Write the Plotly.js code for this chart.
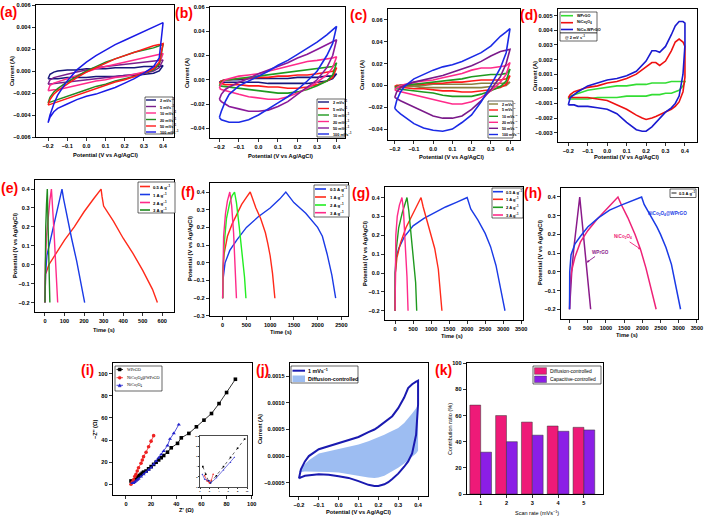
<!DOCTYPE html>
<html><head><meta charset="utf-8">
<script src="https://cdn.plot.ly/plotly-3.0.1.min.js"></script>
<style>html,body{margin:0;padding:0;background:#fff}#chart{width:707px;height:521px}</style>
</head><body><div id="chart"></div>
<script>
// ================= DATA =================
// (a) CV, scan-rate series (A) : upper (anodic) & lower (cathodic) branches on the potential grid
const cvPot = [-0.2,-0.19,-0.17,-0.15,-0.1,-0.05,0,0.05,0.1,0.15,0.2,0.25,0.3,0.35,0.38,0.4];
const scanLabels = ['2 mVs<sup>−1</sup>','5 mVs<sup>−1</sup>','10 mVs<sup>−1</sup>','20 mVs<sup>−1</sup>','50 mVs<sup>−1</sup>','100 mVs<sup>−1</sup>'];
const a2Up = [-0.0007,-0.0003,-0.0001,0.0000,0.0001,0.0001,0.0002,0.0002,0.0002,0.0003,0.0003,0.0003,0.0004,0.0004,0.0004,0.0005];
const a2Lo = [-0.0007,-0.0007,-0.0007,-0.0007,-0.0006,-0.0006,-0.0006,-0.0005,-0.0005,-0.0005,-0.0004,-0.0004,-0.0003,-0.0002,0.0000,0.0005];
const a5Up = [-0.0012,-0.0008,-0.0006,-0.0005,-0.0003,-0.0001,0.0001,0.0003,0.0004,0.0005,0.0006,0.0007,0.0008,0.0009,0.0009,0.0010];
const a5Lo = [-0.0012,-0.0012,-0.0011,-0.0011,-0.0010,-0.0009,-0.0008,-0.0007,-0.0006,-0.0005,-0.0004,-0.0003,-0.0002,0.0000,0.0003,0.0010];
const a10Up = [-0.0018,-0.0013,-0.0011,-0.0010,-0.0007,-0.0004,-0.0001,0.0002,0.0004,0.0006,0.0008,0.0010,0.0012,0.0014,0.0015,0.0016];
const a10Lo = [-0.0018,-0.0018,-0.0017,-0.0017,-0.0015,-0.0013,-0.0011,-0.0009,-0.0008,-0.0006,-0.0005,-0.0003,-0.0001,0.0002,0.0006,0.0016];
const a20Up = [-0.0029,-0.0024,-0.0019,-0.0016,-0.0010,-0.0005,0.0000,0.0004,0.0008,0.0011,0.0014,0.0017,0.0019,0.0021,0.0023,0.0024];
const a20Lo = [-0.0029,-0.0028,-0.0027,-0.0026,-0.0023,-0.0020,-0.0017,-0.0014,-0.0012,-0.0009,-0.0007,-0.0005,-0.0002,0.0001,0.0006,0.0024];
const a50Up = [-0.0031,-0.0026,-0.0021,-0.0018,-0.0012,-0.0006,-0.0001,0.0003,0.0007,0.0011,0.0014,0.0017,0.0020,0.0023,0.0024,0.0025];
const a50Lo = [-0.0031,-0.0030,-0.0029,-0.0028,-0.0025,-0.0022,-0.0019,-0.0016,-0.0013,-0.0010,-0.0008,-0.0005,-0.0002,0.0002,0.0008,0.0025];
const a100Up = [-0.0047,-0.0040,-0.0030,-0.0022,-0.0009,0.0001,0.0008,0.0014,0.0019,0.0024,0.0028,0.0032,0.0036,0.0040,0.0042,0.0044];
const a100Lo = [-0.0047,-0.0042,-0.0037,-0.0034,-0.0030,-0.0026,-0.0023,-0.0021,-0.0018,-0.0015,-0.0011,-0.0007,-0.0002,0.0004,0.0012,0.0044];
// (b)
const b2Up = [-0.002,-0.001,0.000,0.000,0.000,0.001,0.001,0.001,0.001,0.001,0.002,0.002,0.002,0.003,0.003,0.005];
const b2Lo = [-0.002,-0.002,-0.002,-0.002,-0.002,-0.002,-0.002,-0.003,-0.003,-0.003,-0.003,-0.003,-0.002,-0.001,0.001,0.005];
const b5Up = [-0.003,-0.001,0.000,0.000,0.001,0.001,0.002,0.002,0.003,0.003,0.004,0.004,0.005,0.006,0.007,0.010];
const b5Lo = [-0.003,-0.003,-0.004,-0.004,-0.004,-0.005,-0.005,-0.006,-0.006,-0.007,-0.007,-0.006,-0.004,-0.001,0.002,0.010];
const b10Up = [-0.005,-0.002,0.000,0.000,0.001,0.002,0.003,0.004,0.005,0.006,0.007,0.008,0.009,0.010,0.011,0.014];
const b10Lo = [-0.005,-0.005,-0.006,-0.006,-0.007,-0.008,-0.009,-0.010,-0.011,-0.011,-0.010,-0.008,-0.005,-0.001,0.004,0.014];
const b20Up = [-0.007,-0.003,0.000,0.001,0.003,0.004,0.005,0.007,0.009,0.011,0.013,0.015,0.016,0.017,0.018,0.019];
const b20Lo = [-0.007,-0.008,-0.009,-0.010,-0.012,-0.014,-0.015,-0.016,-0.016,-0.014,-0.011,-0.007,-0.002,0.004,0.010,0.019];
const b50Up = [-0.016,-0.012,-0.008,-0.006,-0.002,0.001,0.005,0.008,0.011,0.014,0.018,0.021,0.025,0.029,0.031,0.033];
const b50Lo = [-0.016,-0.018,-0.020,-0.022,-0.024,-0.026,-0.026,-0.025,-0.022,-0.018,-0.012,-0.006,0.000,0.010,0.020,0.033];
const b100Up = [-0.031,-0.026,-0.018,-0.012,-0.005,-0.001,0.003,0.007,0.012,0.016,0.021,0.026,0.031,0.037,0.041,0.044];
const b100Lo = [-0.031,-0.033,-0.034,-0.035,-0.035,-0.033,-0.029,-0.024,-0.019,-0.014,-0.008,-0.001,0.007,0.020,0.030,0.044];
// (c)
const c2Up = [-0.001,-0.001,0.000,0.000,0.000,0.000,0.001,0.001,0.001,0.001,0.001,0.002,0.002,0.002,0.002,0.003];
const c2Lo = [-0.001,-0.001,-0.001,-0.001,-0.001,-0.002,-0.002,-0.002,-0.002,-0.002,-0.002,-0.002,-0.001,-0.001,0.000,0.003];
const c5Up = [-0.001,0.000,0.000,0.000,0.001,0.001,0.002,0.002,0.003,0.003,0.004,0.005,0.005,0.005,0.006,0.009];
const c5Lo = [-0.001,-0.001,-0.002,-0.002,-0.003,-0.003,-0.004,-0.005,-0.005,-0.006,-0.006,-0.005,-0.004,-0.002,0.001,0.009];
const c10Up = [-0.002,-0.001,0.000,0.000,0.001,0.002,0.003,0.004,0.005,0.006,0.008,0.009,0.010,0.010,0.011,0.015];
const c10Lo = [-0.002,-0.003,-0.003,-0.004,-0.005,-0.006,-0.007,-0.009,-0.010,-0.010,-0.010,-0.008,-0.005,-0.001,0.004,0.015];
const c20Up = [-0.004,-0.002,0.000,0.001,0.003,0.004,0.005,0.007,0.009,0.011,0.014,0.016,0.016,0.017,0.018,0.021];
const c20Lo = [-0.004,-0.005,-0.006,-0.007,-0.009,-0.011,-0.013,-0.015,-0.017,-0.017,-0.015,-0.011,-0.005,0.003,0.010,0.021];
const c50Up = [-0.011,-0.006,-0.002,0.000,0.003,0.005,0.007,0.009,0.012,0.015,0.018,0.022,0.027,0.031,0.032,0.033];
const c50Lo = [-0.011,-0.012,-0.014,-0.016,-0.020,-0.024,-0.028,-0.030,-0.030,-0.028,-0.022,-0.014,-0.004,0.008,0.020,0.033];
const c100Up = [-0.021,-0.014,-0.006,-0.001,0.006,0.010,0.014,0.017,0.019,0.022,0.026,0.030,0.036,0.045,0.049,0.052];
const c100Lo = [-0.021,-0.023,-0.026,-0.029,-0.035,-0.039,-0.041,-0.042,-0.040,-0.034,-0.027,-0.015,0.000,0.016,0.030,0.052];
// (d) and (j) potential grid
const cvPot2 = [-0.2,-0.19,-0.17,-0.15,-0.1,-0.05,0,0.05,0.1,0.15,0.18,0.2,0.23,0.25,0.27,0.3,0.33,0.35,0.37,0.39,0.4];
const dLabels = ['WPrGO','NiCo<sub>2</sub>O<sub>4</sub>','NiCo-WPrGO'];
const dWUp = [-0.0007,-0.0005,-0.0004,-0.0003,-0.0001,0.0000,0.0001,0.0002,0.0002,0.0003,0.0003,0.0003,0.0004,0.0004,0.0004,0.0004,0.0005,0.0005,0.0005,0.0005,0.0005];
const dWLo = [-0.0007,-0.0007,-0.0007,-0.0007,-0.0007,-0.0006,-0.0006,-0.0006,-0.0005,-0.0005,-0.0005,-0.0005,-0.0004,-0.0004,-0.0004,-0.0003,-0.0003,-0.0002,-0.0001,0.0002,0.0005];
const dNUp = [-0.0006,-0.0004,-0.0002,-0.0001,0.0001,0.0002,0.0004,0.0005,0.0007,0.0010,0.0013,0.0015,0.0018,0.0018,0.0016,0.0019,0.0026,0.0032,0.0034,0.0032,0.0029];
const dNLo = [-0.0006,-0.0006,-0.0006,-0.0006,-0.0006,-0.0007,-0.0008,-0.0011,-0.0014,-0.0018,-0.0020,-0.0021,-0.0020,-0.0019,-0.0018,-0.0016,-0.0014,-0.0012,-0.0009,-0.0002,0.0008];
const dCUp = [-0.0011,-0.0006,-0.0004,-0.0002,0.0002,0.0004,0.0006,0.0007,0.0009,0.0012,0.0016,0.0019,0.0026,0.0026,0.0025,0.0029,0.0037,0.0043,0.0046,0.0046,0.0045];
const dCLo = [-0.0011,-0.0011,-0.0011,-0.0012,-0.0012,-0.0013,-0.0014,-0.0017,-0.0023,-0.0028,-0.0029,-0.0029,-0.0026,-0.0023,-0.0020,-0.0016,-0.0013,-0.0010,-0.0005,0.0010,0.0030];
// (e)-(h) GCD
const gcdLabels = ['0.5 A g<sup>−1</sup>','1 A g<sup>−1</sup>','2 A g<sup>−1</sup>','3 A g<sup>−1</sup>'];
const e05T = [0,3,20,50,100,150,200,250,287,292,300,350,400,450,500,550,575];
const e05V = [-0.2,-0.05,0.0,0.05,0.13,0.20,0.28,0.35,0.40,0.36,0.31,0.23,0.14,0.06,-0.03,-0.13,-0.2];
const e1T = [0,3,10,25,50,70,87,95,111,136,162,185,203];
const e1V = [-0.2,-0.05,0.05,0.12,0.24,0.32,0.40,0.35,0.26,0.14,0.02,-0.1,-0.2];
const e2T = [0,2,8,15,25,33,38,45,55,65];
const e2V = [-0.2,0.0,0.15,0.25,0.34,0.40,0.33,0.2,0.0,-0.2];
const e3T = [0,1,4,8,12,15,18,22,25];
const e3V = [-0.2,0.0,0.2,0.32,0.40,0.25,0.1,-0.05,-0.2];
const f05T = [0,5,50,150,300,500,750,1000,1200,1330,1500,1750,2000,2100,2200,2300,2380];
const f05V = [-0.2,-0.1,0.0,0.07,0.13,0.2,0.26,0.31,0.36,0.40,0.34,0.28,0.2,0.15,0.05,-0.07,-0.2];
const f1T = [0,5,30,100,200,300,400,500,580,620,700,800,900,950,1000,1050,1100];
const f1V = [-0.2,-0.05,0.05,0.15,0.22,0.28,0.33,0.37,0.40,0.37,0.31,0.25,0.17,0.11,0.04,-0.06,-0.2];
const f2T = [0,5,30,80,150,200,250,290,350,420,460,490];
const f2V = [-0.2,-0.05,0.1,0.25,0.34,0.38,0.40,0.34,0.20,0.04,-0.08,-0.2];
const f3T = [0,3,20,60,100,150,190,230,260,290];
const f3V = [-0.2,0.0,0.15,0.28,0.35,0.40,0.32,0.17,0.02,-0.2];
const g05T = [0,5,30,100,250,500,800,1100,1400,1700,2000,2100,2300,2500,2650,2800,2920,3050];
const g05V = [-0.2,0.0,0.08,0.13,0.19,0.25,0.29,0.32,0.35,0.375,0.40,0.34,0.28,0.21,0.14,0.04,-0.07,-0.2];
const g1T = [0,10,50,150,300,500,620,720,780,900,1000,1100,1200,1300];
const g1V = [-0.2,0.0,0.08,0.16,0.24,0.32,0.36,0.40,0.35,0.27,0.21,0.13,0.02,-0.2];
const g2T = [0,5,30,100,200,280,330,380,450,520,570,600];
const g2V = [-0.2,0.0,0.12,0.24,0.32,0.37,0.40,0.33,0.2,0.06,-0.05,-0.2];
const g3T = [0,3,20,60,120,190,230,290,330,360];
const g3V = [-0.2,0.05,0.2,0.3,0.36,0.40,0.34,0.12,-0.02,-0.2];
const hWT = [0,20,60,120,200,280,330,400,470,530,580];
const hWV = [-0.2,-0.1,0.0,0.13,0.27,0.40,0.3,0.15,0.02,-0.1,-0.2];
const hNT = [0,10,50,150,300,500,750,1000,1200,1330,1420,1600,1800,1950,2100,2250,2380];
const hNV = [-0.2,-0.08,0.0,0.08,0.16,0.22,0.28,0.33,0.37,0.40,0.36,0.29,0.2,0.12,0.02,-0.09,-0.2];
const hCT = [0,5,40,150,300,500,800,1100,1400,1700,1980,2050,2200,2400,2500,2650,2800,2920,3050];
const hCV = [-0.2,0.0,0.09,0.15,0.19,0.24,0.29,0.33,0.355,0.38,0.40,0.36,0.31,0.24,0.2,0.13,0.04,-0.07,-0.2];
// (i) Nyquist
const iLabels = ['WPrGO','NiCo<sub>2</sub>O<sub>4</sub>@WPrGO','NiCo<sub>2</sub>O<sub>4</sub>'];
const iWX = [4,5,6,7,8,9,10,11,12,13,14,16,18,20,22,24,26,28,30,33,36,41,44,50,56,62,68,74,80,87];
const iWY = [3,2,3,4,5,6,7,8,9,10,11,12,14,16,18,20,22,24,26,29,33,37,42,46,52,58,64,73,83,95];
const iNX = [4,5,6,7,8,9,10,12,13,14,16,18,20,22];
const iNY = [0,2,4,7,9,12,15,19,22,25,29,34,39,44];
const iCX = [5,6,7,8,9,10,12,14,16,18,20,22,24,26,28,30,33,35,38,42];
const iCY = [1,1,2,3,4,5,7,9,11,13,15,18,21,24,27,30,35,41,46,54];
const insWX = [0.6,1.2,1.8,2.2,3.5,5,6.5,8,9.5];
const insWY = [4.0,2.5,1.2,0.8,2.2,4.0,5.8,7.6,9.4];
const insNX = [1.0,1.5,2.0,2.4,2.8];
const insNY = [2.2,1.2,0.8,1.3,2.5];
const insCX = [0.5,1.0,2.0,2.3,3.5,5,6.5,7.3];
const insCY = [2.5,1.5,1.2,0.8,1.8,3.3,4.8,5.8];
// (j)
const jLabels = ['1 mVs<sup>−1</sup>','Diffusion-controlled'];
const jUp = [-0.00042,-0.00025,-0.00010,0.00000,0.00013,0.00019,0.00025,0.00030,0.00036,0.00045,0.00050,0.00055,0.00063,0.00068,0.00075,0.00090,0.00110,0.00128,0.00135,0.00140,0.00142];
const jLo = [-0.00042,-0.00040,-0.00037,-0.00036,-0.00034,-0.00035,-0.00038,-0.00041,-0.00047,-0.00054,-0.00056,-0.00056,-0.00053,-0.00049,-0.00043,-0.00033,-0.00020,-0.00010,0.00005,0.00040,0.00097];
const jDiffUp = [-0.00030,-0.00024,-0.00015,-0.00008,0.00005,0.00009,0.00013,0.00017,0.00022,0.00028,0.00032,0.00036,0.00040,0.00044,0.00048,0.00053,0.00062,0.00070,0.00080,0.00090,0.00097];
const jDiffLo = [-0.00030,-0.00030,-0.00029,-0.00029,-0.00029,-0.00030,-0.00031,-0.00034,-0.00037,-0.00040,-0.00041,-0.00040,-0.00037,-0.00033,-0.00029,-0.00022,-0.00014,-0.00008,-0.00001,0.00005,0.00010];
// (k)
const kScan = [1,2,3,4,5];
const kDiff = [68,60,55,52,51];
const kCap = [32,40,45,48,49];
const kLabels = ['Diffusion-controlled','Capacitive-controlled'];

// ================= LAYOUT HELPERS =================
const W = 707, H = 521;
const PX = x => x / W, PY = y => 1 - y / H;
const FONT = 'Liberation Sans, Arial, sans-serif';
const SERIF = 'Liberation Serif, Times New Roman, serif';
const traces = [], shapes = [], annotations = [];
const layout = {width:W, height:H, margin:{l:0,r:0,t:0,b:0}, paper_bgcolor:'#fff', plot_bgcolor:'#fff', showlegend:false, shapes, annotations, bargap:0.16, bargroupgap:0, barmode:'group'};

function axis(id, box, xr, yr, xd, yd, xf, yf, tfs){
  const common = () => ({showline:true, mirror:true, linecolor:'#000', linewidth:1.3, ticks:'outside', ticklen:3, tickwidth:0.8, tickcolor:'#000', showgrid:false, zeroline:false, tick0:0, fixedrange:true,
    tickfont:{family:FONT, size:tfs||5.6, color:'#000', weight:700}});
  layout['xaxis'+id] = Object.assign(common(), {domain:[PX(box[0]),PX(box[2])], anchor:'y'+id, range:xr, dtick:xd, tickformat:xf});
  layout['yaxis'+id] = Object.assign(common(), {domain:[PY(box[3]),PY(box[1])], anchor:'x'+id, range:yr, dtick:yd, tickformat:yf});
}
function loop(V, up, lo){ return {x: V.concat(V.slice().reverse()), y: up.concat(lo.slice().reverse())}; }
function addLoop(id, V, up, lo, color, w){
  const L = loop(V, up, lo);
  traces.push({type:'scatter', mode:'lines', x:L.x, y:L.y, xaxis:'x'+id, yaxis:'y'+id, line:{color, width:w||1.5}, hoverinfo:'skip'});
}
function addLine(id, x, y, color, w){
  traces.push({type:'scatter', mode:'lines', x, y, xaxis:'x'+id, yaxis:'y'+id, line:{color, width:w||1.5}, hoverinfo:'skip'});
}
function text(x, y, t, size, opts){
  opts = opts || {};
  annotations.push({xref:'paper', yref:'paper', x:PX(x), y:PY(y), text:t, showarrow:false,
    xanchor:opts.xa||'left', yanchor:'middle', textangle:opts.angle||0,
    font:{family:opts.family||FONT, size, color:opts.color||'#000', weight:opts.bold===false?400:700}});
}
function box(x0,y0,x1,y1,w){ shapes.push({type:'rect', xref:'paper', yref:'paper', x0:PX(x0), x1:PX(x1), y0:PY(y1), y1:PY(y0), line:{color:'#000', width:w||0.6}, fillcolor:'#fff', layer:'above'}); }
function seg(x0,x1,y,color,w){ shapes.push({type:'line', xref:'paper', yref:'paper', x0:PX(x0), x1:PX(x1), y0:PY(y), y1:PY(y), line:{color, width:w||1.5}, layer:'above'}); }
function legend(bx, rows, sx0, sx1, tx, labels, colors, size, lw){
  box(bx[0],bx[1],bx[2],bx[3]);
  labels.forEach((lab,i)=>{ seg(sx0, sx1, rows[i], colors[i], lw||1.6); text(tx, rows[i], lab, size); });
}

// ================= AXES =================
axis('',  [36,5,174,137],  [-0.263,0.457], [-0.006,0.006], 0.1, 0.002, '.1f', '.3f');
axis('2', [210,7,345,138], [-0.248,0.443], [-0.048,0.06], 0.1, 0.02, '.1f', '.2f');
axis('3', [388,9,520,140], [-0.235,0.452], [-0.05,0.07], 0.1, 0.02, '.1f', '.2f');
axis('4', [558,9,697,142], [-0.253,0.462], [-0.00364,0.00546], 0.1, 0.001, '.1f', '.3f');
axis('5', [35,180,174,312], [-51,660], [-0.25,0.448], 100, 0.1, 'd', '.1f');
axis('6', [210,183,348,316], [-267,2640], [-0.3005,0.451], 500, 0.1, 'd', '.1f');
axis('7', [385,187,523,320], [-280,3550], [-0.249,0.456], 500, 0.1, 'd', '.1f');
axis('8', [561,188,698,319], [-235,3530], [-0.252,0.448], 500, 0.1, 'd', '.1f');
axis('9', [113,363,252,495], [-10.3,100.2], [-9.7,109.7], 20, 20, 'd', 'd');
axis('10',[290,363,428,496], [-0.245,0.45], [-0.00075,0.00175], 0.1, 0.0005, '.1f', '.4f');
axis('11',[467,363,603,494], [0.47,5.74], [0,100.2], 1, 20, 'd', 'd');
axis('12',[200,436,247,487], [0,10], [0,10], 2, 2, 'd', 'd', 2.4);
layout.xaxis12.ticklen = 1.2; layout.yaxis12.ticklen = 1.2; layout.xaxis12.linewidth = 0.7; layout.yaxis12.linewidth = 0.7;

// ================= TRACES =================
const aCol = ['#16167a','#7a1f8c','#ff2a8a','#228b22','#ff1a1a','#1a1ae6'];
[[a2Up,a2Lo],[a5Up,a5Lo],[a10Up,a10Lo],[a20Up,a20Lo],[a50Up,a50Lo],[a100Up,a100Lo]].forEach((p,i)=>addLoop('',cvPot,p[0],p[1],aCol[i],1.5));
const bCol = ['#16167a','#ff1a1a','#1f9a1f','#ff2a8a','#8a1a9a','#1a2ae6'];
[[b2Up,b2Lo],[b5Up,b5Lo],[b10Up,b10Lo],[b20Up,b20Lo],[b50Up,b50Lo],[b100Up,b100Lo]].forEach((p,i)=>addLoop('2',cvPot,p[0],p[1],bCol[i],1.6));
const cCol = ['#8a8040','#ff1a1a','#1f9a1f','#ff2a8a','#7a1a8a','#1a2ae6'];
[[c2Up,c2Lo],[c5Up,c5Lo],[c10Up,c10Lo],[c20Up,c20Lo],[c50Up,c50Lo],[c100Up,c100Lo]].forEach((p,i)=>addLoop('3',cvPot,p[0],p[1],cCol[i],1.6));
const dCol = ['#33dd33','#ee1111','#1a1ad0'];
[[dWUp,dWLo],[dNUp,dNLo],[dCUp,dCLo]].forEach((p,i)=>addLoop('4',cvPot2,p[0],p[1],dCol[i],1.6));
const eCol = ['#ff2a1a','#1a3ae6','#ff2a8a','#1f8a1f'];
[[e05T,e05V],[e1T,e1V],[e2T,e2V],[e3T,e3V]].forEach((p,i)=>addLine('5',p[0],p[1],eCol[i],1.4));
const fCol = ['#1a3ae6','#ff2a1a','#22ee22','#ff2a8a'];
[[f05T,f05V],[f1T,f1V],[f2T,f2V],[f3T,f3V]].forEach((p,i)=>addLine('6',p[0],p[1],fCol[i],1.4));
const gCol = ['#1a3ae6','#ff2a1a','#1f9a1f','#ff2a8a'];
[[g05T,g05V],[g1T,g1V],[g2T,g2V],[g3T,g3V]].forEach((p,i)=>addLine('7',p[0],p[1],gCol[i],1.4));
const hCol = ['#8a1a8a','#ee2277','#1a3ae6'];
[[hWT,hWV],[hNT,hNV],[hCT,hCV]].forEach((p,i)=>addLine('8',p[0],p[1],hCol[i],1.5));
// (i)
const iCol = ['#000000','#ee2222','#2222cc'];
const iSym = ['square','circle','triangle-up'];
[[iWX,iWY],[iNX,iNY],[iCX,iCY]].forEach((p,i)=>traces.push({type:'scatter',mode:'lines+markers',x:p[0],y:p[1],xaxis:'x9',yaxis:'y9',line:{color:iCol[i],width:0.8},marker:{symbol:iSym[i],size:3.6,color:iCol[i]},hoverinfo:'skip'}));
[[insWX,insWY],[insNX,insNY],[insCX,insCY]].forEach((p,i)=>traces.push({type:'scatter',mode:'lines+markers',x:p[0],y:p[1],xaxis:'x12',yaxis:'y12',line:{color:iCol[i],width:0.6,dash:i===0?'dot':'solid'},marker:{symbol:iSym[i],size:1.6,color:iCol[i]},hoverinfo:'skip'}));
// (j)
const jFill = loop(cvPot2, jDiffUp, jDiffLo);
traces.push({type:'scatter',mode:'lines',x:jFill.x,y:jFill.y,xaxis:'x10',yaxis:'y10',fill:'toself',fillcolor:'#9dbdf2',line:{width:0,color:'#9dbdf2'},hoverinfo:'skip'});
addLoop('10', cvPot2, jUp, jLo, '#1a1ab0', 2);
// (k)
const kCol = ['#ee1a78','#8b1ee6'];
[kDiff,kCap].forEach((v,i)=>traces.push({type:'bar',x:kScan,y:v,xaxis:'x11',yaxis:'y11',marker:{color:kCol[i],line:{color:'#333',width:0.5}},hoverinfo:'skip'}));

// ================= LEGENDS =================
legend([145,97,173,134],[100,106.5,113,119.5,126,132],146,156,158,scanLabels,aCol,3.8,1.4);
legend([317,99,345,137],[102,108.5,115,121.5,128,134],318,329,331,scanLabels,bCol,3.8,1.4);
legend([488,101,513,138],[104,110,116.3,122.3,128.3,134.5],489,498,500,scanLabels,cCol,3.6,1.4);
legend([560,12,597,33],[15.7,22.7,29.5],561,573,574.5,dLabels,dCol,3.8,1.6);
box(560,33,597,41); text(563,37.2,'@ 2 mV s<sup>−1</sup>',3.8);
legend([138,182,175,213],[186.5,194.5,202.5,210],140,150,151,gcdLabels,eCol,4.3,1.6);
legend([314,185,349,217],[189,197,205,212.7],315,326,327.5,gcdLabels,fCol,4.3,1.6);
legend([492,188,523,218],[191.7,199.3,207.3,215],493,503,504,gcdLabels,gCol,4,1.6);
box(670,189,696,197.5); seg(671.5,676.5,193,'#000',0.9); text(677,193.2,'0.5 A g<sup>−1</sup>',4);
// (i) legend with markers
box(115,366,162,391);
[369.5,377.7,385.3].forEach((yy,i)=>{
  seg(116.5,123,yy,iCol[i],0.8);
  const cx=119.7, r=1.5;
  if(i===2){ shapes.push({type:'path',xref:'paper',yref:'paper',path:`M ${PX(cx-r)} ${PY(yy+r)} L ${PX(cx+r)} ${PY(yy+r)} L ${PX(cx)} ${PY(yy-r)} Z`,fillcolor:iCol[i],line:{color:iCol[i],width:0.5},layer:'above'}); }
  else shapes.push({type:i===0?'rect':'circle',xref:'paper',yref:'paper',x0:PX(cx-r),x1:PX(cx+r),y0:PY(yy+r),y1:PY(yy-r),fillcolor:iCol[i],line:{color:iCol[i],width:0.5},layer:'above'});
  text(124.5,yy,iLabels[i],4.2,{family:SERIF,bold:false});
});
// (j) legend
box(291,366,358,383);
seg(292.5,305,370.7,'#1a1ab0',2); text(306,370.9,jLabels[0],5.3);
shapes.push({type:'rect',xref:'paper',yref:'paper',x0:PX(292.5),x1:PX(305),y0:PY(382),y1:PY(375.5),fillcolor:'#9dbdf2',line:{width:0},layer:'above'});
text(306,378.9,jLabels[1],5.3);
// (k) legend
box(533,366,601,384);
[371,379.3].forEach((yy,i)=>{
  shapes.push({type:'rect',xref:'paper',yref:'paper',x0:PX(534.5),x1:PX(546.5),y0:PY(yy+3.3),y1:PY(yy-3.3),fillcolor:kCol[i],line:{color:'#333',width:0.4},layer:'above'});
  text(548,yy,kLabels[i],4.9,{bold:false});
});

// (h) curve annotations
const hAnn = [
  {x:470,y:0.05,t:'WPrGO',c:hCol[0],ax:14,ay:-10,arrow:true},
  {x:1960,y:0.12,t:'NiCo<sub>2</sub>O<sub>4</sub>',c:hCol[1],ax:-18,ay:-12,arrow:true},
  {x:2700,y:0.31,t:'NiCo<sub>2</sub>O<sub>4</sub>@WPrGO',c:hCol[2],ax:0,ay:0,arrow:false}
];
hAnn.forEach(a=>annotations.push({xref:'x8',yref:'y8',x:a.x,y:a.y,text:a.t,showarrow:a.arrow,arrowhead:2,arrowsize:0.6,arrowwidth:0.9,arrowcolor:a.c,ax:a.ax,ay:a.ay,font:{family:FONT,size:4.6,color:a.c,weight:700}}));

// ================= TITLES =================
const POT = 'Potential (V vs Ag/AgCl)';
const titles = [
  [105,155,POT,0],[12,71,'Current (A)',-90],
  [280,156,POT,0],[187,73,'Current (A)',-90],
  [451,157,POT,0],[362,75,'Current (A)',-90],
  [626,157,POT,0],[535,76,'Current (A)',-90],
  [104,330,'Time (s)',0],[15,246,POT,-90],
  [281,332,'Time (s)',0],[190,249,POT,-90],
  [452,336,'Time (s)',0],[365,253,POT,-90],
  [627,335,'Time (s)',0],[540,253,POT,-90],
  [187,510,"Z' (Ω)",0],[95,429,"−Z'' (Ω)",-90],
  [358,512,POT,0],[260,429,'Current (A)',-90]
];
titles.forEach(t=>text(t[0],t[1],t[2],5.7,{xa:'center',angle:t[3]}));
text(537,513,'Scan rate (mVs<sup>−1</sup>)',5.5,{xa:'center',bold:false});
text(450,429,'Contribution ratio (%)',5.5,{xa:'center',angle:-90,bold:false});

// panel labels
[[8,12,'(a)'],[184,13,'(b)'],[358,15,'(c)'],[529,15,'(d)'],[9,188,'(e)'],[188,192,'(f)'],[361,193,'(g)'],[533,193,'(h)'],[87,370,'(i)'],[262,370,'(j)'],[443,370,'(k)']]
  .forEach(p=>text(p[0],p[1],p[2],14,{xa:'center',color:'#ff0000'}));

Plotly.newPlot('chart', traces, layout, {staticPlot:true, displayModeBar:false});
</script>
</body></html>
